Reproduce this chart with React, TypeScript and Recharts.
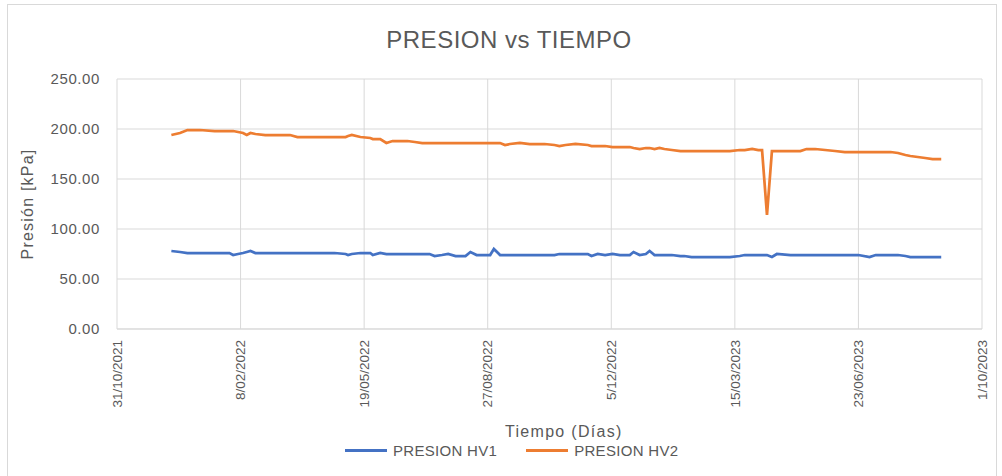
import { LineChart, Line, XAxis, YAxis, CartesianGrid, Label } from "recharts"

// days counted from 31/10/2021
const days = [
  44, 51, 57, 67, 79, 91, 94, 98, 102, 105, 108, 112, 120, 132, 140, 146, 151, 164, 176, 185,
  187, 190, 197, 205, 207, 213, 218, 223, 229, 235, 241, 247, 253, 257, 263, 268, 274, 282, 286, 291,
  302, 305, 310, 314, 318, 326, 334, 346, 354, 358, 363, 371, 381, 384, 389, 395, 401, 407, 415, 418,
  423, 428, 431, 435, 439, 443, 449, 456, 459, 465, 472, 484, 496, 504, 508, 514, 519, 522, 526, 530,
  534, 545, 553, 558, 565, 573, 581, 589, 600, 609, 614, 626, 632, 638, 642, 648, 654, 660, 667,
]

const hv2 = [
  194, 196, 199, 199, 198, 198, 198, 197, 196, 194, 196, 195, 194, 194, 194, 192, 192, 192, 192, 192,
  193, 194, 192, 191, 190, 190, 186, 188, 188, 188, 187, 186, 186, 186, 186, 186, 186, 186, 186, 186,
  186, 186, 186, 184, 185, 186, 185, 185, 184, 183, 184, 185, 184, 183, 183, 183, 182, 182, 182, 181,
  180, 181, 181, 180, 181, 180, 179, 178, 178, 178, 178, 178, 178, 179, 179, 180, 179, 179, 114, 178,
  178, 178, 178, 180, 180, 179, 178, 177, 177, 177, 177, 177, 176, 174, 173, 172, 171, 170, 170,
]

const hv1 = [
  78, 77, 76, 76, 76, 76, 74, 75, 76, 77, 78, 76, 76, 76, 76, 76, 76, 76, 76, 75,
  74, 75, 76, 76, 74, 76, 75, 75, 75, 75, 75, 75, 75, 73, 74, 75, 73, 73, 77, 74,
  74, 80, 74, 74, 74, 74, 74, 74, 74, 75, 75, 75, 75, 73, 75, 74, 75, 74, 74, 77,
  74, 75, 78, 74, 74, 74, 74, 73, 73, 72, 72, 72, 72, 73, 74, 74, 74, 74, 74, 72,
  75, 74, 74, 74, 74, 74, 74, 74, 74, 72, 74, 74, 74, 73, 72, 72, 72, 72, 72,
]

const xTicks = [0, 100, 200, 300, 400, 500, 600, 700]
const xTickLabels = ["31/10/2021", "8/02/2022", "19/05/2022", "27/08/2022", "5/12/2022", "15/03/2023", "23/06/2023", "1/10/2023"]
const yTicks = [0, 50, 100, 150, 200, 250]

const data = days.map((d, i) => ({ day: d, hv1: hv1[i], hv2: hv2[i] }))

const FONT = "'Liberation Sans', Arial, sans-serif"
const GREY = "#595959"

const DateTick = ({ x, y, payload }: any) => {
  const label = xTickLabels[xTicks.indexOf(payload.value)]
  return (
    <text
      x={x}
      y={y}
      transform={`rotate(-90, ${x}, ${y})`}
      textAnchor="end"
      dy="0.35em"
      fill={GREY}
      fontSize={13.5}
      fontFamily={FONT}
    >
      {label}
    </text>
  )
}

export default function App() {
  return (
    <div style={{ position: "absolute", left: 0, top: 0, width: 1002, height: 476, background: "#fff", fontFamily: FONT }}>
      <div
        style={{
          position: "absolute",
          left: 7,
          top: 4,
          width: 990,
          height: 480,
          border: "1px solid #d9d9d9",
          boxSizing: "border-box",
        }}
      />
      <div
        style={{
          position: "absolute",
          left: 0,
          width: 1018,
          top: 26,
          textAlign: "center",
          fontSize: 24,
          letterSpacing: 0.5,
          color: GREY,
        }}
      >
        PRESION vs TIEMPO
      </div>
      <LineChart
        width={1002}
        height={476}
        data={data}
        margin={{ top: 79, right: 20, bottom: 0, left: 17 }}
        style={{ position: "absolute", left: 0, top: 0 }}
      >
        <CartesianGrid stroke="#d9d9d9" strokeWidth={1} />
        <XAxis
          dataKey="day"
          type="number"
          domain={[0, 700]}
          ticks={xTicks}
          interval={0}
          tick={<DateTick />}
          tickLine={false}
          axisLine={{ stroke: "#d9d9d9" }}
          tickSize={0}
          tickMargin={11}
          height={147}
        />
        <YAxis
          type="number"
          domain={[0, 250]}
          ticks={yTicks}
          interval={0}
          tickFormatter={(v: number) => v.toFixed(2)}
          tick={{ fill: GREY, fontSize: 15, fontFamily: FONT, letterSpacing: 0.6 }}
          tickLine={false}
          axisLine={false}
          tickSize={0}
          tickMargin={17}
          width={100}
        >
          <Label
            value="Presión [kPa]"
            angle={-90}
            position="insideLeft"
            offset={0}
            style={{ fill: GREY, fontSize: 16, fontFamily: FONT, textAnchor: "middle", letterSpacing: 1.2 }}
            dx={10}
          />
        </YAxis>
        <Line dataKey="hv1" stroke="#4472C4" strokeWidth={2.75} dot={false} isAnimationActive={false} name="PRESION HV1" />
        <Line dataKey="hv2" stroke="#ED7D31" strokeWidth={2.75} dot={false} isAnimationActive={false} name="PRESION HV2" />
      </LineChart>
      <div style={{ position: "absolute", left: 505, top: 423, fontSize: 16, letterSpacing: 1.3, color: GREY, whiteSpace: "nowrap" }}>
        Tiempo (Días)
      </div>
      <div style={{ position: "absolute", left: 345, top: 442, display: "flex", alignItems: "center", fontSize: 15, letterSpacing: 0.3, color: GREY, whiteSpace: "nowrap" }}>
        <span style={{ display: "inline-block", width: 42, height: 3, background: "#4472C4", marginRight: 6 }} />
        <span style={{ marginRight: 29 }}>PRESION HV1</span>
        <span style={{ display: "inline-block", width: 42, height: 3, background: "#ED7D31", marginRight: 6 }} />
        <span>PRESION HV2</span>
      </div>
    </div>
  )
}
